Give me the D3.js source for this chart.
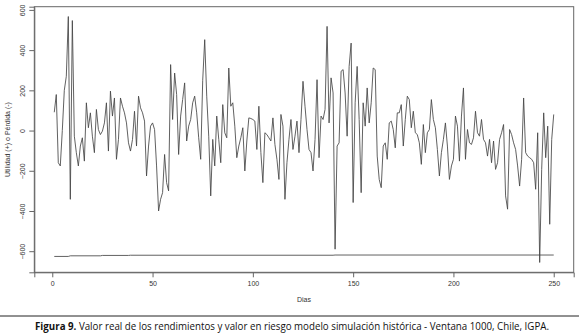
<!DOCTYPE html>
<html>
<head>
<meta charset="utf-8">
<script src="https://d3js.org/d3.v7.min.js"></script>
<style>
  body { margin: 0; background: #fff; }
</style>
</head>
<body>
<div id="chart"></div>
<script>
// Data: daily returns (Utilidad/Perdida), days 1..250
var days = d3.range(1, 251);
var returns = [
  91, 179, -160, -176, 0, 200, 270, 567, -342, 547,
  -28, -110, -176, -77, -36, -152, 138, 14, 88, -28,
  -110, 105, 5, -20, -3, 38, 138, -102, 196, 72,
  162, -143, -44, 162, 121, 88, 38, -61, -102, -44,
  96, -77, 171, 113, 88, 47, -226, -77, 22, 38,
  5, -176, -400, -342, -309, -119, -259, -300, 328, 55,
  286, 179, -119, 72, 154, 237, -52, 22, 55, 138,
  171, 88, -36, -143, 250, 452, 171, -28, -325, -44,
  -176, 72, -44, -160, 129, -11, -36, 311, 121, 138,
  22, -135, -77, -36, 14, -201, -52, 63, 60, 55,
  47, -94, 121, -110, -259, -11, -20, -36, -52, 63,
  -69, -143, -243, 80, 22, -342, -160, -44, 55, -94,
  -28, 47, -110, 55, 245, 121, 5, -94, -110, -201,
  -44, 253, -135, 72, 55, 105, 518, 38, 262, 187,
  -590, -77, -61, 295, 303, 187, -28, 319, 435, -358,
  138, 319, 55, -309, 138, 22, 212, 38, 138, 311,
  303, -127, -243, -284, -77, -61, -143, 38, 47, 5,
  -86, 88, 88, 129, -77, 55, 171, 154, 14, 96,
  -11, -20, -61, -168, 30, -110, -11, 5, 154, 55,
  14, -94, -226, -110, -44, 38, -77, -243, -176, -143,
  72, 22, -152, 72, 212, -143, 5, -61, -69, -36,
  96, -11, -28, 55, -44, -61, -127, -44, -160, -52,
  -193, -160, -44, -11, 30, -325, -391, 5, -20, -61,
  -94, -176, -276, -143, 162, -110, -127, -135, -143, -160,
  -292, -11, -656, -193, 88, -135, 22, -466, -44, 80
];
// Value at risk (historical simulation), read at a few days
var varDays = [1, 8, 9, 24, 25, 38, 39, 140, 141, 250];
var varValues = [-626, -626, -623, -623, -621, -621, -620, -620, -619, -619];

var xTicks = [0, 50, 100, 150, 200, 250];
var yTicks = [-600, -400, -200, 0, 200, 400, 600];

var W = 579, H = 336;
var box = {left: 34.3, right: 573.7, top: 6.7, bottom: 272.3};
var rFont = "Liberation Sans, Arial, sans-serif";

var svg = d3.select("#chart").append("svg")
  .attr("width", W)
  .attr("height", H);

// R style 4% padding on the ranges
var xExt = d3.extent(days);
var xPad = (xExt[1] - xExt[0]) * 0.04;
var allY = returns.concat(varValues);
var yExt = d3.extent(allY);
var yPad = (yExt[1] - yExt[0]) * 0.04;

var x = d3.scaleLinear()
  .domain([xExt[0] - xPad, xExt[1] + xPad])
  .range([box.left, box.right]);
var y = d3.scaleLinear()
  .domain([yExt[0] - yPad, yExt[1] + yPad])
  .range([box.bottom, box.top]);

// plot box
svg.append("rect")
  .attr("x", box.left)
  .attr("y", box.top)
  .attr("width", box.right - box.left)
  .attr("height", box.bottom - box.top)
  .attr("fill", "none")
  .attr("stroke", "#666")
  .attr("stroke-width", 1);

// axes
var xAxis = svg.append("g")
  .attr("transform", "translate(0," + box.bottom + ")")
  .call(d3.axisBottom(x).tickValues(xTicks).tickSize(5).tickPadding(4));
var yAxis = svg.append("g")
  .attr("transform", "translate(" + box.left + ",0)")
  .call(d3.axisLeft(y).tickValues(yTicks).tickSize(5).tickPadding(4));

svg.selectAll(".domain").attr("stroke", "#666");
svg.selectAll(".tick line").attr("stroke", "#666");
xAxis.selectAll("text")
  .style("font-size", "7px")
  .style("font-family", rFont)
  .attr("fill", "#333");
yAxis.selectAll("text")
  .style("font-size", "7px")
  .style("font-family", rFont)
  .attr("fill", "#333")
  .attr("text-anchor", "middle")
  .attr("x", null)
  .attr("dy", null)
  .attr("transform", "translate(-11,0) rotate(-90)")
  .attr("dominant-baseline", "middle");

// axis titles
svg.append("text")
  .attr("x", (box.left + box.right) / 2)
  .attr("y", 302)
  .attr("text-anchor", "middle")
  .style("font-size", "7px")
  .style("font-family", rFont)
  .attr("fill", "#333")
  .text("Dias");
svg.append("text")
  .attr("transform", "translate(10," + ((box.top + box.bottom) / 2) + ") rotate(-90)")
  .attr("text-anchor", "middle")
  .style("font-size", "7px")
  .style("font-family", rFont)
  .attr("fill", "#333")
  .text("Utilidad (+) o Pérdida (-)");

// series
var line = d3.line()
  .x(function(d, i) { return x(days[i]); })
  .y(function(d) { return y(d); });
svg.append("path")
  .datum(returns)
  .attr("d", line)
  .attr("fill", "none")
  .attr("stroke", "#444")
  .attr("stroke-width", 0.85);

var varLine = d3.line()
  .x(function(d, i) { return x(varDays[i]); })
  .y(function(d) { return y(d); });
svg.append("path")
  .datum(varValues)
  .attr("d", varLine)
  .attr("fill", "none")
  .attr("stroke", "#444")
  .attr("stroke-width", 0.85);

// caption
svg.append("line")
  .attr("x1", 0).attr("x2", W)
  .attr("y1", 316).attr("y2", 316)
  .attr("stroke", "#222")
  .attr("stroke-width", 1);
var cap = svg.append("text")
  .attr("x", 35)
  .attr("y", 330)
  .style("font-size", "10px")
  .style("font-family", "'Open Sans', sans-serif")
  .attr("fill", "#111")
  .attr("textLength", 514)
  .attr("lengthAdjust", "spacingAndGlyphs");
cap.append("tspan").style("font-weight", "bold").text("Figura 9.");
cap.append("tspan").text(" Valor real de los rendimientos y valor en riesgo modelo simulación histórica - Ventana 1000, Chile, IGPA.");
</script>
</body>
</html>
